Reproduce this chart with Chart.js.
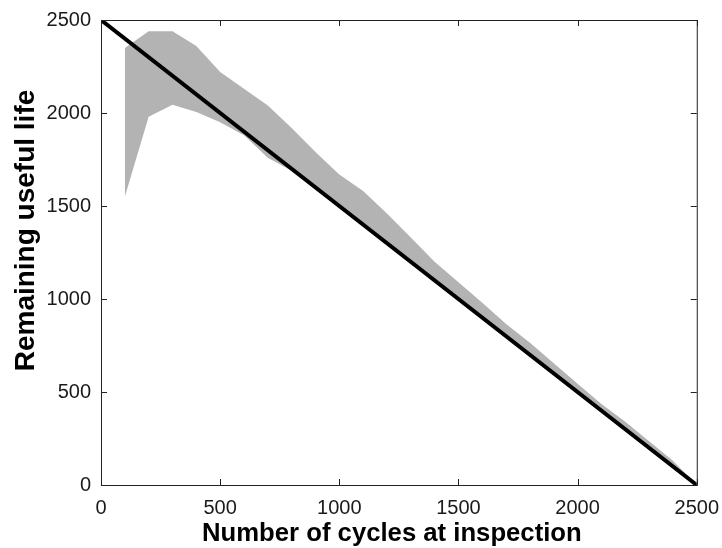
<!DOCTYPE html>
<html lang="en">
<head>
  <meta charset="UTF-8">
  <script src="https://cdn.jsdelivr.net/npm/chart.js"></script>
  <title>Remaining useful life</title>
  <style>
    html, body { margin: 0; padding: 0; background: #fff; }
    #wrap { width: 722px; height: 548px; }
  </style>
</head>
<body>
  <div id="wrap"><canvas id="myChart"></canvas></div>

<script>
  // inspection cycles where the prediction interval was computed
  const cycles = [100, 200, 300, 400, 500, 600, 700, 800, 900, 1000, 1100, 1200, 1300,
                  1400, 1500, 1600, 1700, 1800, 1900, 2000, 2100, 2200, 2300, 2400, 2500];
  const upperRul = [2350, 2440, 2440, 2360, 2220, 2130, 2040, 1920, 1790, 1670, 1580, 1460, 1330,
                    1200, 1090, 980, 865, 765, 655, 545, 435, 340, 235, 130, 0];
  const lowerRul = [1550, 1980, 2045, 2005, 1950, 1880, 1760, 1690, 1590, 1490, 1390, 1290, 1190,
                    1090, 990, 890, 790, 690, 590, 490, 390, 290, 190, 90, 0];
  // true remaining life
  const trueCycles = [0, 2500];
  const trueRul = [2500, 0];
  const tickValues = [0, 500, 1000, 1500, 2000, 2500];
  const xTitle = 'Number of cycles at inspection';
  const yTitle = 'Remaining useful life';

  const pts = (xs, ys) => xs.map((x, i) => ({ x: x, y: ys[i] }));
  const family = '"Liberation Sans", Arial, sans-serif';

  // box around the axes with inward tick marks, plus the axis labels
  const boxTicks = {
    id: 'boxTicks',
    afterDraw(chart) {
      const { ctx, chartArea: a, scales } = chart;
      const len = 6;
      ctx.save();
      ctx.strokeStyle = '#222';
      ctx.lineWidth = 1;
      ctx.strokeRect(a.left + 0.5, a.top + 0.5, a.right - a.left, a.bottom - a.top);
      ctx.beginPath();
      tickValues.forEach(v => {
        const px = Math.round(scales.x.getPixelForValue(v)) + 0.5;
        ctx.moveTo(px, a.bottom); ctx.lineTo(px, a.bottom - len);
        ctx.moveTo(px, a.top); ctx.lineTo(px, a.top + len);
        const py = Math.round(scales.y.getPixelForValue(v)) + 0.5;
        ctx.moveTo(a.left, py); ctx.lineTo(a.left + len, py);
        ctx.moveTo(a.right, py); ctx.lineTo(a.right - len, py);
      });
      ctx.stroke();

      ctx.fillStyle = '#000';
      ctx.textAlign = 'center';
      ctx.textBaseline = 'alphabetic';
      ctx.font = 'bold 25.7px ' + family;
      ctx.fillText(xTitle, (a.left + a.right) / 2 - 7, a.bottom + 56);

      ctx.font = 'bold 28px ' + family;
      ctx.translate(a.left - 67, (a.top + a.bottom) / 2 - 22);
      ctx.rotate(-Math.PI / 2);
      ctx.fillText(yTitle, 0, 0);
      ctx.restore();
    }
  };

  const tickFont = { family: family, size: 20 };

  new Chart(document.getElementById('myChart'), {
    type: 'line',
    data: {
      datasets: [
        {
          label: 'True RUL',
          data: pts(trueCycles, trueRul),
          borderColor: '#000',
          borderWidth: 4,
          pointRadius: 0,
          fill: false,
          order: -1
        },
        {
          label: 'Upper bound',
          data: pts(cycles, upperRul),
          borderWidth: 0,
          borderColor: 'rgba(0,0,0,0)',
          backgroundColor: '#b3b3b3',
          pointRadius: 0,
          fill: '+1'
        },
        {
          label: 'Lower bound',
          data: pts(cycles, lowerRul),
          borderWidth: 0,
          borderColor: 'rgba(0,0,0,0)',
          pointRadius: 0,
          fill: false
        }
      ]
    },
    options: {
      responsive: true,
      maintainAspectRatio: false,
      animation: false,
      layout: { padding: { top: 20, right: 20, left: 0, bottom: 0 } },
      plugins: { legend: { display: false }, tooltip: { enabled: false } },
      scales: {
        x: {
          type: 'linear',
          min: 0,
          max: 2500,
          afterBuildTicks: s => { s.ticks = tickValues.map(v => ({ value: v })); },
          grid: { display: false },
          border: { display: false },
          ticks: { color: '#1a1a1a', font: tickFont, padding: 3, maxRotation: 0, callback: v => String(v) },
          afterFit: s => { s.height = 63; }
        },
        y: {
          min: 0,
          max: 2500,
          afterBuildTicks: s => { s.ticks = tickValues.map(v => ({ value: v })); },
          grid: { display: false },
          border: { display: false },
          ticks: { color: '#1a1a1a', font: tickFont, padding: 2, callback: v => String(v) },
          afterFit: s => { s.width = 101; }
        }
      }
    },
    plugins: [boxTicks]
  });
</script>
</body>
</html>
